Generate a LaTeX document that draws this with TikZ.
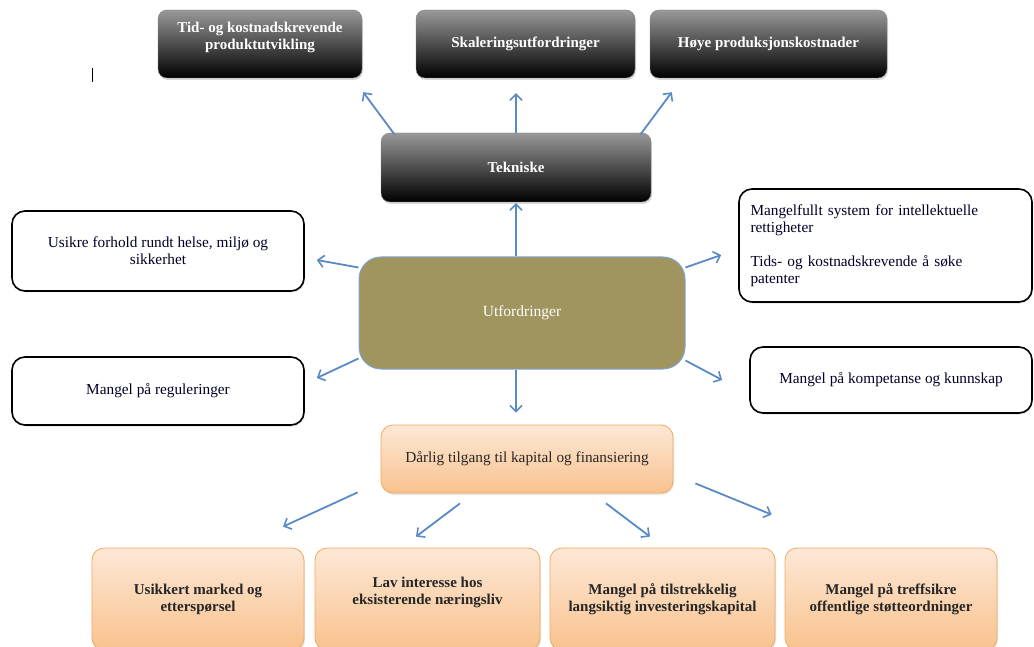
\documentclass[tikz,border=0pt]{standalone}
\usepackage{fontspec}
\setmainfont{Liberation Serif}
\usetikzlibrary{shadows}
\usetikzlibrary{calc}
\usetikzlibrary{arrows.meta}

\definecolor{utfolive}{HTML}{A0945F}
\definecolor{utfedge}{HTML}{7FA6D6}
\definecolor{arrowblue}{HTML}{5A8AC6}
\definecolor{peachtop}{HTML}{FCE8D6}
\definecolor{peachbot}{HTML}{F9C28E}
\definecolor{peachedge}{HTML}{F2A85E}

\begin{document}
\begin{tikzpicture}[x=1pt,y=-1pt]
    \tikzset{
      darkbox/.style={
        rounded corners=9pt,
        top color=black!40,
        bottom color=black,
        draw=black!50,
        text=white,
        font=\bfseries\fontsize{15}{17}\selectfont,
        align=center,
        inner sep=0pt,
        minimum height=68pt,
        drop shadow={shadow xshift=1pt,shadow yshift=-2pt,opacity=0.3}
      },
      whitebox/.style={
        rounded corners=13pt,
        draw=black,
        line width=1.6pt,
        fill=white,
        text=black!85!blue,
        font=\fontsize{15.3}{17}\selectfont,
        align=center,
        inner sep=0pt,
        drop shadow={shadow xshift=1pt,shadow yshift=-1.5pt,opacity=0.25}
      },
      peachbox/.style={
        rounded corners=12pt,
        top color=peachtop,
        bottom color=peachbot,
        draw=peachedge,
        line width=0.8pt,
        text=black!85,
        font=\bfseries\fontsize{15}{17}\selectfont,
        align=center,
        inner sep=0pt,
        drop shadow={shadow xshift=1pt,shadow yshift=-2pt,opacity=0.2}
      },
      arr/.style={
        draw=arrowblue,
        line width=1.8pt,
        -{Straight Barb[length=6pt,width=12pt,line width=1.6pt]}
      }
    }

    \useasboundingbox (0,0) rectangle (1034,647);

    %Cursor mark
    \draw[line width=0.8pt] (92,68) -- (92,82);

    %Top left node
    \node[darkbox,minimum width=204pt] at (260,44) (tid)
      {Tid- og kostnadskrevende\\produktutvikling\\~};
    %Top middle node
    \node[darkbox,minimum width=219pt] at (525.5,44) (skal)
      {Skaleringsutfordringer};
    %Top right node
    \node[darkbox,minimum width=237pt] at (768.5,44) (hoye)
      {Høye produksjonskostnader};

    %Technical node
    \node[darkbox,minimum width=270pt,minimum height=69pt] at (516,167.5) (tek)
      {Tekniske};

    %Primary node
    \node[rounded corners=22pt,fill=utfolive,draw=utfedge,line width=1pt,
      text=white,font=\fontsize{15.5}{17}\selectfont,
      minimum width=326pt,minimum height=112pt] at (522,313) (utf)
      {Utfordringer};

    %Left nodes
    \node[whitebox,minimum width=292pt,minimum height=80pt] at (158,251) (usikre)
      {Usikre forhold rundt helse, miljø og\\sikkerhet};
    \node[whitebox,minimum width=292pt,minimum height=68pt] at (158,391) (regul)
      {Mangel på reguleringer};

    %Right nodes
    \node[whitebox,minimum width=293pt,minimum height=113pt,align=left,
      text width=270pt] at (885.5,245.5) (rett)
      {Mangelfullt system for intellektuelle\\rettigheter\\[17pt]Tids- og kostnadskrevende å søke\\patenter};
    \node[whitebox,minimum width=282pt,minimum height=66pt] at (891,380) (komp)
      {Mangel på kompetanse og kunnskap};

    %Capital node
    \node[peachbox,minimum width=292pt,minimum height=68pt,font=\fontsize{15.3}{17}\selectfont] at (527,459) (darlig)
      {Dårlig tilgang til kapital og finansiering};

    %Bottom nodes
    \node[peachbox,minimum width=212pt,minimum height=102pt] at (198,599) (marked)
      {Usikkert marked og\\etterspørsel};
    \node[peachbox,minimum width=225pt,minimum height=102pt] at (427.5,599) (interesse)
      {Lav interesse hos\\eksisterende næringsliv\\~};
    \node[peachbox,minimum width=225pt,minimum height=102pt] at (662.5,599) (invest)
      {Mangel på tilstrekkelig\\langsiktig investeringskapital};
    \node[peachbox,minimum width=212pt,minimum height=102pt] at (891,599) (stotte)
      {Mangel på treffsikre\\offentlige støtteordninger};

    %Arrows from Tekniske
    \draw[arr] ($(tek.north west)+(14,2)$) -- ($(tid.south east)+(1,14)$);
    \draw[arr] (tek.north) -- ($(tek.north |- skal.south)+(0,15)$);
    \draw[arr] ($(tek.north east)+(-11,2)$) -- ($(hoye.south west)+(22,14)$);

    %Arrows from Utfordringer
    \draw[arr] (tek.south |- utf.north) -- ($(tek.south)+(0,1)$);
    \draw[arr] ($(utf.north west)+(0,11)$) -- ($(usikre.east)+(12,9)$);
    \draw[arr] ($(utf.north east)+(0,11)$) -- ($(rett.west)+(-17,9.5)$);
    \draw[arr] ($(utf.south west)+(0,-11)$) -- ($(regul.east)+(12,-13)$);
    \draw[arr] ($(utf.south east)+(0,-9)$) -- ($(komp.west)+(-27,0)$);
    \draw[arr] (tek.south |- utf.south) -- ($(tek.south |- darlig.north)+(0,-12)$);

    %Arrows from capital node
    \draw[arr] ($(darlig.south west)+(-23,-1)$) -- ($(marked.north)+(85,-21)$);
    \draw[arr] ($(darlig.south)+(-67,10)$) -- ($(interesse.north)+(-11.5,-11)$);
    \draw[arr] ($(darlig.south)+(79,10)$) -- ($(invest.north)+(-12.5,-11)$);
    \draw[arr] ($(darlig.south east)+(22,-10)$) -- ($(stotte.north west)+(-13,-33)$);
  \end{tikzpicture}
\end{document}
